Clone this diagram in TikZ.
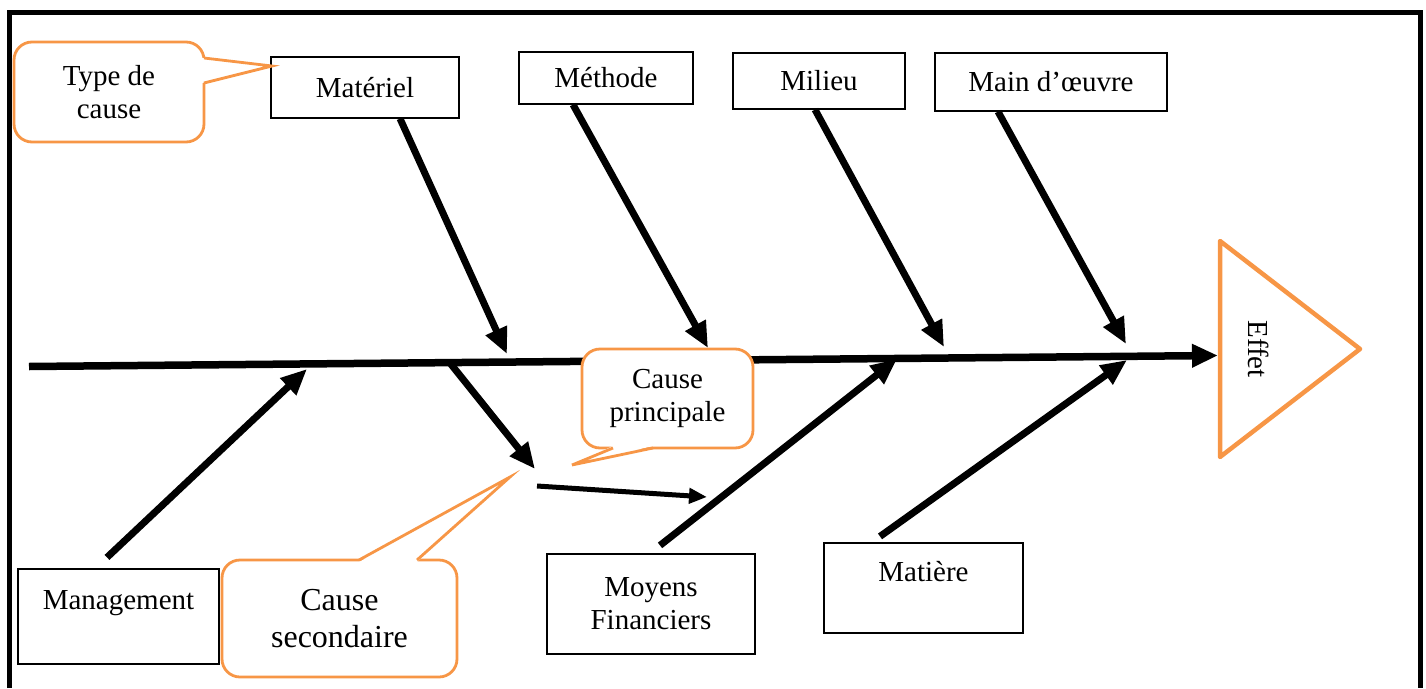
\documentclass[tikz,border=0pt]{standalone}
\usepackage{fontspec}
\setmainfont{Liberation Serif}
\usetikzlibrary{arrows.meta}
\definecolor{calloutorange}{RGB}{247,150,70}
\begin{document}
\begin{tikzpicture}[x=1pt, y=-1pt,
    font=\fontsize{29}{33}\selectfont,
    box/.style={draw, line width=1.2pt, align=center, inner sep=0pt},
    bubble/.style={draw=calloutorange, line width=2.8pt, fill=white, rounded corners=18pt, align=center, inner sep=0pt},
    pointer/.style={draw=calloutorange, line width=2.8pt},
    bone/.style={line width=7pt, -{Triangle[length=26pt,width=22pt]}},
    twig/.style={line width=5pt, -{Triangle[length=18pt,width=15pt]}}]
\useasboundingbox (0,0) rectangle (1426,688);
\draw[line width=5pt] (9.5,688) -- (9.5,12) -- (1420.5,12) -- (1420.5,688);

% effet
\draw[calloutorange, line width=4.5pt, line join=round] (1220,241) -- (1360,349) -- (1220,457) -- cycle;
\node[rotate=-90] (effet) at (1259,349) {Effet};

% spine
\coordinate (tail) at (29,366.5);
\coordinate (head) at (1218,355.5);
\draw[bone, line width=7.5pt] (tail) -- (head);

% causes
\node[box, minimum width=188, minimum height=61] (materiel) at (365,87.5) {Matériel};
\node[box, minimum width=174, minimum height=52] (methode) at (606,78) {Méthode};
\node[box, minimum width=172, minimum height=56] (milieu) at (819,81) {Milieu};
\node[box, minimum width=232, minimum height=58] (maindoeuvre) at (1051,82) {Main d’œuvre};
\node[box, minimum width=201, minimum height=95] (management) at (118.5,616.5) {Management\\~};
\node[box, minimum width=208, minimum height=100] (moyens) at (651,604) {Moyens\\Financiers};
\node[box, minimum width=199, minimum height=90] (matiere) at (923.5,588) {Matière\\~};

\coordinate (materielTip) at (507,354);
\coordinate (methodeTip) at (708,348);
\coordinate (milieuTip) at (944,347);
\coordinate (maindoeuvreTip) at (1126,344);
\coordinate (managementTip) at (307,369);
\coordinate (moyensTip) at (897,359);
\coordinate (matiereTip) at (1127,360);

\draw[bone] ([xshift=35pt]materiel.south) -- (materielTip);
\draw[bone] ([xshift=-33pt]methode.south) -- (methodeTip);
\draw[bone] ([xshift=-4pt]milieu.south) -- (milieuTip);
\draw[bone] ([xshift=-53pt]maindoeuvre.south) -- (maindoeuvreTip);
\draw[bone] ([xshift=-11.5pt,yshift=11pt]management.north) -- (managementTip);
\draw[bone] ([xshift=9pt,yshift=8pt]moyens.north) -- (moyensTip);
\draw[bone] ([xshift=-43.5pt,yshift=6pt]matiere.north) -- (matiereTip);

% secondary cause
\coordinate (branch) at (450,363);
\coordinate (branchTip) at (535,469);
\coordinate (twigStart) at (537,486);
\coordinate (twigTip) at (707,497);
\draw[bone] (branch) -- (branchTip);
\draw[twig] (twigStart) -- (twigTip);

% callouts
\node[bubble, minimum width=190, minimum height=100] (typecause) at (109,92) {Type de\\cause};
\coordinate (typeTip) at (272,66);
\fill[white] (202,58) -- (typeTip) -- (202,83) -- cycle;
\draw[pointer] (204,58) -- (typeTip) -- (204,83);

\node[bubble, minimum width=171, minimum height=99] (principale) at (667.5,398.5) {Cause\\principale};
\coordinate (principaleTip) at (572,465);
\fill[white] (613,446) -- (principaleTip) -- (653,446) -- cycle;
\draw[pointer] (613,448) -- (principaleTip) -- (653,448);

\node[bubble, minimum width=235, minimum height=117, font=\fontsize{32}{37}\selectfont] (secondaire) at (339.5,618.5) {Cause\\secondaire};
\coordinate (secondaireTip) at (510,477);
\fill[white] (359,562) -- (secondaireTip) -- (417,562) -- cycle;
\draw[pointer] (359,560) -- (secondaireTip) -- (417,560);
\end{tikzpicture}
\end{document}
